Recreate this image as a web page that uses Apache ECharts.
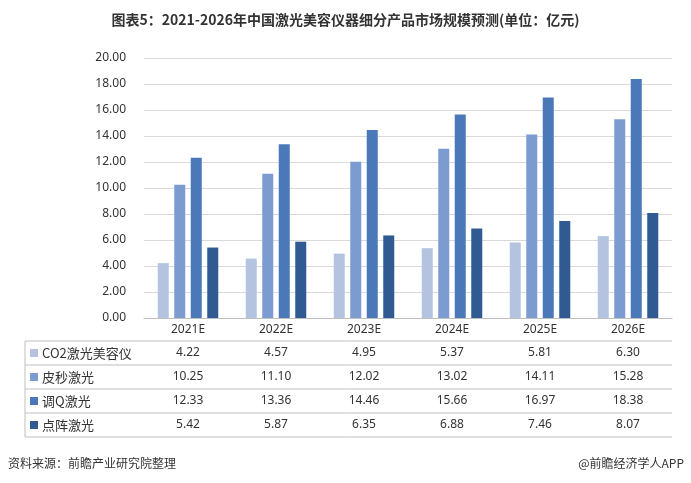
<!DOCTYPE html>
<html><head><meta charset="utf-8">
<script src="https://cdn.jsdelivr.net/npm/echarts@6/dist/echarts.min.js"></script>
<style>html,body{margin:0;padding:0;background:#fff}#c{width:691px;height:483px}</style>
</head><body><div id="c"></div>
<script>
const categories = ['2021E','2022E','2023E','2024E','2025E','2026E'];
const seriesNames = ['CO2激光美容仪','皮秒激光','调Q激光','点阵激光'];
const co2 = [4.22,4.57,4.95,5.37,5.81,6.30];
const picosecond = [10.25,11.10,12.02,13.02,14.11,15.28];
const qswitch = [12.33,13.36,14.46,15.66,16.97,18.38];
const fractional = [5.42,5.87,6.35,6.88,7.46,8.07];
const values = [co2, picosecond, qswitch, fractional];
const colors = ['#b4c3e0','#7c9bd0','#4a78b8','#2f5a92'];

const L = 144, R = 672, T = 58, B = 318, rowH = 24, tableLeft = 25;
const chart = echarts.init(document.getElementById('c'));
const graphics = [];
// horizontal table lines
for (let i = 0; i <= 4; i++) {
  const y = B + 23 + i * rowH;
  graphics.push({type:'line', shape:{x1:tableLeft, y1:y, x2:R, y2:y}, style:{stroke:'#bfbfbf', lineWidth:1}});
}
graphics.push({type:'line', shape:{x1:tableLeft, y1:B+23, x2:tableLeft, y2:B+23+4*rowH}, style:{stroke:'#bfbfbf', lineWidth:1}});
const cw = (R - L) / categories.length;
seriesNames.forEach((n, i) => {
  const yc = B + 23 + i * rowH + rowH / 2;
  graphics.push({type:'rect', shape:{x:30, y:yc-4, width:8, height:8}, style:{fill:colors[i]}});
  graphics.push({type:'text', x:42, y:yc, style:{text:n, fill:'#333', font:'13px "Noto Sans CJK SC", sans-serif', verticalAlign:'middle'}});
  values[i].forEach((v, j) => {
    graphics.push({type:'text', x:L + cw * (j + 0.5), y:yc, style:{text:v.toFixed(2), fill:'#333', font:'12px "Noto Sans", sans-serif', align:'center', verticalAlign:'middle'}});
  });
});
graphics.push({type:'text', x:8, y:463, style:{text:'资料来源：前瞻产业研究院整理', fill:'#333', font:'12px "Noto Sans CJK SC", sans-serif', verticalAlign:'middle'}});
graphics.push({type:'text', x:684, y:463, style:{text:'@前瞻经济学人APP', fill:'#333', font:'12px "Noto Sans CJK SC", sans-serif', align:'right', verticalAlign:'middle'}});

chart.setOption({
  animation:false,
  title:{text:'图表5：2021-2026年中国激光美容仪器细分产品市场规模预测(单位：亿元)', left:'center', top:8,
    textStyle:{fontSize:14, fontWeight:'bold', color:'#333', fontFamily:'"Noto Sans CJK SC", sans-serif'}},
  grid:{left:L, right:691-R, top:T, bottom:483-B},
  xAxis:{type:'category', data:categories,
    axisLine:{lineStyle:{color:'#bfbfbf'}},
    axisTick:{length:23+4*rowH, lineStyle:{color:'#bfbfbf'}},
    axisLabel:{color:'#333', fontSize:12, margin:6, fontFamily:'"Noto Sans", sans-serif'}},
  yAxis:{type:'value', min:0, max:20, interval:2,
    axisLabel:{color:'#333', fontSize:12, margin:18, formatter:v=>v.toFixed(2), fontFamily:'"Noto Sans", sans-serif'},
    splitLine:{lineStyle:{color:'#d9d9d9'}}, axisLine:{show:false}},
  series: seriesNames.map((n, i) => ({name:n, type:'bar', data:values[i], barWidth:11, barGap:'50%', itemStyle:{color:colors[i]}})),
  graphic: graphics
});
</script></body></html>
